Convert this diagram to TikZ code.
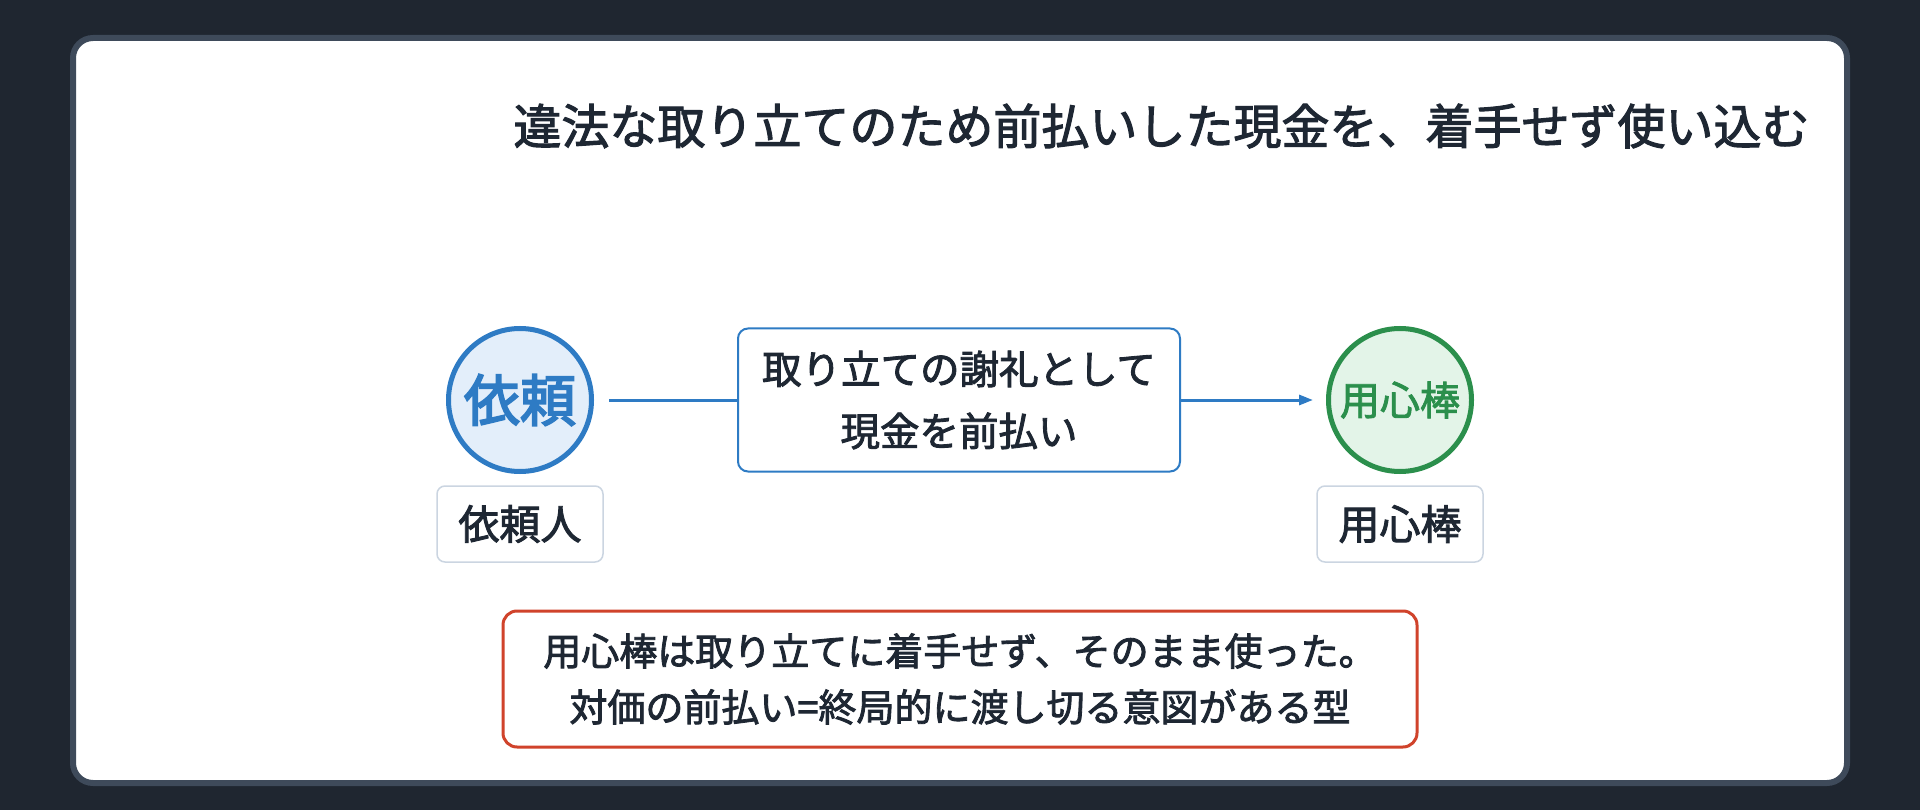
\documentclass[tikz,border=0pt]{standalone}
\usepackage{fontspec}
\setmainfont{Noto Sans CJK JP}
\newfontfamily\medfont[FakeBold=2.2]{Noto Sans CJK JP}
\newfontfamily\semifont[FakeBold=3.2]{Noto Sans CJK JP}
\usetikzlibrary{arrows.meta}
\definecolor{bgdark}{HTML}{1F2630}
\definecolor{cardborder}{HTML}{3E4A5A}
\definecolor{txtdark}{HTML}{1E2733}
\definecolor{blueline}{HTML}{2E7BC4}
\definecolor{bluefill}{HTML}{E3EEFA}
\definecolor{greenline}{HTML}{2B8F4C}
\definecolor{greenfill}{HTML}{E3F4E8}
\definecolor{grayborder}{HTML}{CBD5E1}
\definecolor{redline}{HTML}{D0432B}
\tikzset{
  actor/.style={circle, minimum size=143pt, line width=5pt, inner sep=0pt},
  namebox/.style={draw=grayborder, line width=1.5pt, fill=white, rounded corners=8pt,
    minimum width=166pt, minimum height=76pt, text=txtdark, font=\medfont\fontsize{41}{48}\selectfont},
  midbox/.style={draw=blueline, line width=2pt, fill=white, rounded corners=10pt,
    minimum width=442pt, minimum height=143pt, align=center, text=txtdark,
    font=\medfont\fontsize{39.5}{62}\selectfont},
  notebox/.style={draw=redline, line width=3pt, fill=white, rounded corners=14pt,
    minimum width=914pt, minimum height=136pt, align=center, text=txtdark,
    font=\medfont\fontsize{38}{56}\selectfont},
  flow/.style={draw=blueline, line width=3pt},
}
\begin{document}
\begin{tikzpicture}[x=1pt,y=-1pt]
\useasboundingbox (0,0) rectangle (1920,810);
\fill[bgdark] (0,0) rectangle (1920,810);
\draw[cardborder, line width=6pt, fill=white, rounded corners=20pt] (73,38) rectangle (1847,783);
\node[anchor=east, text=txtdark, font=\medfont\fontsize{48}{56}\selectfont] (title) at (1813,126)
  {違法な取り立てのため前払いした現金を、着手せず使い込む};
\node[actor, draw=blueline, fill=bluefill, text=blueline, font=\semifont\fontsize{56}{60}\selectfont] (client) at (520,400) {依頼};
\node[actor, draw=greenline, fill=greenfill, text=greenline, font=\medfont\fontsize{40}{44}\selectfont] (guard) at (1400,400) {用心棒};
\node[namebox] (clientlbl) at (520,524) {依頼人};
\node[namebox] (guardlbl) at (1400,524) {用心棒};
\node[midbox] (pay) at (959,400) {取り立ての謝礼として\\現金を前払い};
\draw[flow] ([xshift=15pt]client.east) -- (pay.west);
\draw[flow, -{Triangle[length=14pt,width=10pt]}] (pay.east) -- ([xshift=-13pt]guard.west);
\node[notebox] (note) at (960,679) {用心棒は取り立てに着手せず、そのまま使った。\\ 対価の前払い=終局的に渡し切る意図がある型};
\end{tikzpicture}
\end{document}
